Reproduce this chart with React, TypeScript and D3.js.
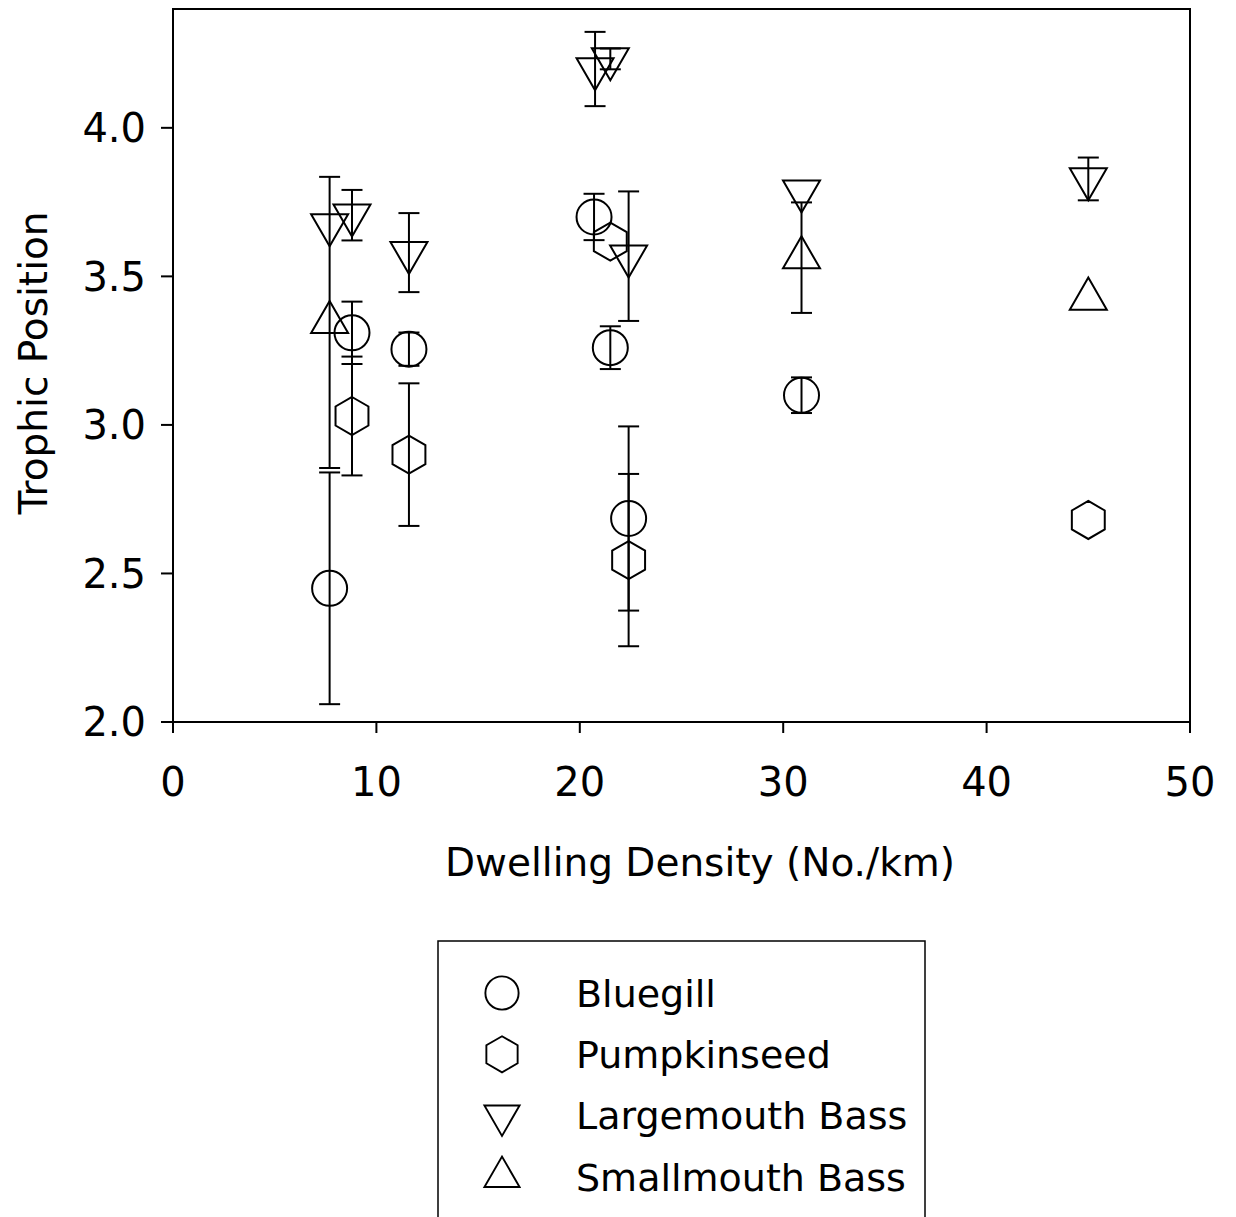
import React from "react";
import * as d3 from "d3";

// values
const bluegillX = [7.7, 8.8, 11.6, 20.7, 21.5, 22.4, 30.9];
const bluegillY = [2.45, 3.31, 3.255, 3.70, 3.26, 2.685, 3.10];
const bluegillErr = [0.39, 0.105, 0.056, 0.078, 0.072, 0.31, 0.06];

const pumpkinX = [8.8, 11.6, 21.5, 22.4, 45.0];
const pumpkinY = [3.03, 2.90, 3.617, 2.545, 2.68];
const pumpkinErr = [0.2, 0.24, 0, 0.29, 0];

const largeX = [7.7, 8.8, 11.6, 20.75, 21.5, 22.4, 30.9, 45.0];
const largeY = [3.673, 3.706, 3.58, 4.198, 4.232, 3.568, 3.787, 3.828];
const largeErr = [0, 0.085, 0.133, 0.125, 0.035, 0.218, 0, 0.072];

const smallX = [7.7, 30.9, 45.0];
const smallY = [3.345, 3.563, 3.424];
const smallErr = [0.49, 0.186, 0];

const xTicks = [0, 10, 20, 30, 40, 50];
const yTicks = [2.0, 2.5, 3.0, 3.5, 4.0];

const legendNames = ["Bluegill", "Pumpkinseed", "Largemouth Bass", "Smallmouth Bass"];
const legendShapes = ["circle", "hexagon", "down", "up"];

const FONT = "'Comic Sans MS', 'DejaVu Sans', sans-serif";

const symbolPath = (shape: string) => {
  if (shape === "circle") {
    const r = 17.5;
    return `M${r},0A${r},${r},0,1,1,${-r},0A${r},${r},0,1,1,${r},0Z`;
  }
  if (shape === "hexagon") {
    const r = 19;
    const pts = d3.range(6).map((i) => {
      const a = (Math.PI / 3) * i - Math.PI / 2;
      return [r * Math.cos(a), r * Math.sin(a)];
    });
    return "M" + pts.map((p) => p.join(",")).join("L") + "Z";
  }
  const side = 37;
  const h = (side * Math.sqrt(3)) / 2;
  const dir = shape === "down" ? 1 : -1;
  // centroid at origin
  return `M${-side / 2},${(-dir * h) / 3}L${side / 2},${(-dir * h) / 3}L0,${(dir * 2 * h) / 3}Z`;
};

const App = () => {
  const width = 1236;
  const height = 1217;
  const left = 173, right = 1190, top = 9, bottom = 722;

  const x = d3.scaleLinear().domain([0, 50]).range([left, right]);
  const y = d3.scaleLinear().domain([2.0, 4.4]).range([bottom, top]);

  const series = [
    { xs: bluegillX, ys: bluegillY, err: bluegillErr, shape: "circle" },
    { xs: pumpkinX, ys: pumpkinY, err: pumpkinErr, shape: "hexagon" },
    { xs: largeX, ys: largeY, err: largeErr, shape: "down" },
    { xs: smallX, ys: smallY, err: smallErr, shape: "up" },
  ];

  const cap = 10.5;

  return (
    <svg
      width={width}
      height={height}
      style={{ position: "absolute", left: 0, top: 0, background: "#fff" }}
      fontFamily={FONT}
    >
      {/* frame */}
      <rect x={left} y={top} width={right - left} height={bottom - top} fill="none" stroke="#000" strokeWidth={2} />

      {/* y axis ticks */}
      {yTicks.map((t) => (
        <g key={"y" + t}>
          <line x1={left - 12} x2={left} y1={y(t)} y2={y(t)} stroke="#000" strokeWidth={2} />
          <text x={146} y={y(t)} dy="0.36em" textAnchor="end" fontSize={40}>
            {t.toFixed(1)}
          </text>
        </g>
      ))}

      {/* x axis ticks */}
      {xTicks.map((t) => (
        <g key={"x" + t}>
          <line x1={x(t)} x2={x(t)} y1={bottom} y2={bottom + 11} stroke="#000" strokeWidth={2} />
          <text x={x(t)} y={796} textAnchor="middle" fontSize={40}>
            {t}
          </text>
        </g>
      ))}

      <text x={700} y={876} textAnchor="middle" fontSize={39}>
        Dwelling Density (No./km)
      </text>
      <text
        transform={`translate(47,363) rotate(-90)`}
        textAnchor="middle"
        fontSize={39}
      >
        Trophic Position
      </text>

      {/* error bars */}
      {series.map((s, si) =>
        s.xs.map((xv, i) => {
          const e = s.err[i];
          if (!e) return null;
          const cx = x(xv);
          const y1 = y(s.ys[i] + e);
          const y2 = y(s.ys[i] - e);
          return (
            <g key={`e${si}-${i}`} stroke="#000" strokeWidth={2}>
              <line x1={cx} x2={cx} y1={y1} y2={y2} />
              <line x1={cx - cap} x2={cx + cap} y1={y1} y2={y1} />
              <line x1={cx - cap} x2={cx + cap} y1={y2} y2={y2} />
            </g>
          );
        })
      )}

      {/* symbols */}
      {series.map((s, si) =>
        s.xs.map((xv, i) => (
          <path
            key={`p${si}-${i}`}
            d={symbolPath(s.shape)}
            transform={`translate(${x(xv)},${y(s.ys[i])})`}
            fill="none"
            stroke="#000"
            strokeWidth={2}
          />
        ))
      )}

      {/* legend */}
      <rect x={438} y={941} width={487} height={300} fill="none" stroke="#000" strokeWidth={1.5} />
      {legendNames.map((name, i) => {
        const ly = 993 + i * 61.3;
        return (
          <g key={name}>
            <path
              d={symbolPath(legendShapes[i])}
              transform={`translate(502,${ly}) scale(0.95)`}
              fill="none"
              stroke="#000"
              strokeWidth={2}
            />
            <text x={576} y={ly} dy="0.36em" fontSize={38}>
              {name}
            </text>
          </g>
        );
      })}
    </svg>
  );
};

export default App;
